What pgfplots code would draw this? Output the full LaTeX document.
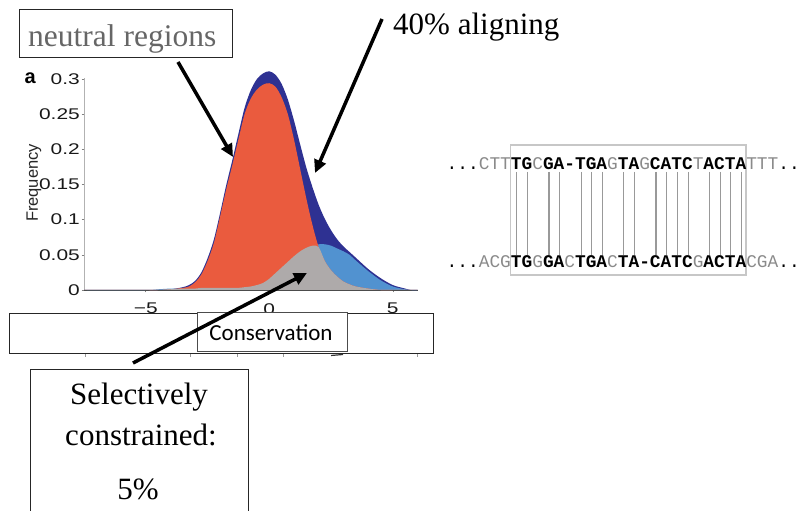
\documentclass[border=0pt]{standalone}
\usepackage{pgfplots}
\usepackage{pgfplotstable}
\pgfplotsset{compat=1.18}
\usepackage{fontspec}
\setmainfont{Liberation Serif}
\newfontfamily\helv{Liberation Sans}
\newfontfamily\tickfont[FakeStretch=1.35]{Liberation Sans}
\newfontfamily\calfont{Carlito}
\newfontfamily\seqfont{Liberation Mono}
\usetikzlibrary{arrows.meta}
\definecolor{dblue}{HTML}{2E3192}
\definecolor{nred}{HTML}{EA5B3E}
\definecolor{lblue}{HTML}{5192D0}
\definecolor{ovgray}{HTML}{AEAAAA}
\definecolor{seqgray}{HTML}{8A8A8A}

\pgfplotstableread{
x     tot    neu    con    ovl
-7.5  0      0      0      0
-5    0      0      0      0
-4.5  0.000  0.000  0.001  0.000
-4    0.001  0.001  0.002  0.001
-3.5  0.004  0.003  0.002  0.002
-3.25 0.007  0.005  0.002  0.002
-3    0.013  0.011  0.002  0.002
-2.75 0.025  0.022  0.003  0.003
-2.5  0.045  0.041  0.003  0.003
-2.25 0.071  0.066  0.003  0.003
-2    0.108  0.103  0.003  0.003
-1.75 0.148  0.142  0.003  0.003
-1.5  0.184  0.177  0.003  0.003
-1.25 0.222  0.214  0.003  0.003
-1    0.259  0.250  0.004  0.004
-0.75 0.284  0.272  0.005  0.005
-0.5  0.300  0.285  0.007  0.007
-0.25 0.308  0.292  0.010  0.010
0     0.311  0.294  0.016  0.016
0.25  0.306  0.289  0.024  0.024
0.5   0.293  0.274  0.032  0.032
0.75  0.271  0.250  0.040  0.040
1     0.241  0.214  0.048  0.048
1.25  0.207  0.172  0.055  0.055
1.5   0.174  0.130  0.060  0.060
1.75  0.146  0.092  0.063  0.063
2     0.121  0.061  0.065  0.061
2.25  0.101  0.041  0.065  0.041
2.5   0.085  0.028  0.063  0.028
2.75  0.072  0.019  0.059  0.019
3     0.062  0.012  0.055  0.012
3.25  0.054  0.008  0.050  0.008
3.5   0.046  0.005  0.042  0.005
4     0.030  0.002  0.027  0.002
4.5   0.017  0.000  0.014  0.000
5     0.007  0      0.005  0
5.5   0.002  0      0.001  0
5.75  0.000  0      0      0
6     0      0      0      0
}\dens

\begin{document}
\begin{tikzpicture}[x=1pt,y=1pt]
\path[use as bounding box] (0,0) rectangle (804,511);
\begin{axis}[
  at={(84pt,221pt)}, anchor=south west, scale only axis,
  width=333.5pt, height=212.4pt,
  xmin=-7.5, xmax=6, ymin=0, ymax=0.302,
  clip=false, axis lines*=left,
  x axis line style={draw=black!70, line width=0.8pt},
  y axis line style={draw=black!30, line width=0.8pt},
  xtick={-5,0,5}, xticklabels={{−5},0,5},
  ytick={0,0.05,0.1,0.15,0.2,0.25,0.3},
  yticklabels={0,0.05,0.1,0.15,0.2,0.25,0.3},
  tick align=outside, major tick length=2.5pt,
  tick style={draw=black!50, line width=0.6pt},
  ticklabel style={font=\tickfont\fontsize{15.5}{15.5}\selectfont, text=black!90},
  yticklabel style={anchor=east, inner sep=0pt, xshift=-1.5pt},
  xticklabel style={anchor=north, inner sep=0pt, yshift=-10.5pt},
  ylabel={Frequency},
  ylabel style={at={(rel axis cs:-0.15,0.504)}, anchor=center,
    font=\helv\fontsize{16.5}{16.5}\selectfont, text=black!85, inner sep=0pt},
]
\addplot[fill=dblue, draw=none, smooth] table[x=x, y=tot]{\dens} \closedcycle;
\addplot[fill=lblue, draw=none, smooth] table[x=x, y=con]{\dens} \closedcycle;
\addplot[fill=nred, draw=none, smooth] table[x=x, y=neu]{\dens} \closedcycle;
\addplot[fill=ovgray, draw=none, smooth] table[x=x, y=ovl]{\dens} \closedcycle;
\end{axis}

% panel letter
\node[anchor=base west, inner sep=0pt, font=\helv\bfseries\fontsize{20}{20}\selectfont] at (24.5,427) {a};

% remnant ticks below the big box
\foreach \xx in {85,190,237,283,417} \draw[black!40, line width=0.6pt] (\xx,158) -- (\xx,154);
\draw[black!80, line width=1.2pt] (331,155.5) -- (343,156.5);

% Conservation boxes
\draw[fill=white, draw=black!85, line width=0.9pt] (9,198) rectangle (433,158);
\draw[fill=white, draw=black!70, line width=0.9pt] (197,199) rectangle (347,160);
\node[anchor=base, inner sep=0pt, font=\calfont\fontsize{23}{23}\selectfont] at (271,170.5) {Conservation};

% neutral regions box
\draw[draw=black!85, line width=0.9pt] (19,502) rectangle (232,454);
\node[anchor=base west, inner sep=0pt, text=black!60, font=\fontsize{31.5}{31.5}\selectfont] at (28,464) {neutral regions};

% 40% aligning
\node[anchor=base west, inner sep=0pt, font=\fontsize{31}{31}\selectfont] at (393,476) {40\% aligning};

% Selectively constrained box
\draw[draw=black!85, line width=0.9pt] (30,-10) -- (30,142) -- (248,142) -- (248,-10);
\node[anchor=base, inner sep=0pt, font=\fontsize{31}{31}\selectfont] at (139,106) {Selectively};
\node[anchor=base, inner sep=0pt, font=\fontsize{31}{31}\selectfont] at (141,65) {constrained:};
\node[anchor=base, inner sep=0pt, font=\fontsize{31}{31}\selectfont] at (138,11) {5\%};

% arrows
\draw[line width=3.5pt, -{Triangle[length=13pt,width=12pt]}] (178,449) -- (233,354);
\draw[line width=3.5pt, -{Triangle[length=13pt,width=12pt]}] (382,492) -- (315,338);
\draw[line width=3.5pt, -{Triangle[length=13pt,width=12pt]}] (133,148) -- (307,238);

% alignment
\draw[draw=black!22, line width=1.5pt] (510.7,366) rectangle (746,236);
\foreach \i in {0,1,3,4,6,7,8,10,11,13,14,15,16,18,19,20,21}
  \draw[draw=black!40, line width=1.1pt] ({511.5+10.7*(\i+0.5)},339) -- ({511.5+10.7*(\i+0.5)},256);
\node[anchor=base west, inner sep=0pt, font=\seqfont\fontsize{17.83}{17.83}\selectfont] at (446.5,341)
  {...{\color{seqgray}CTT}\textbf{TG}{\color{seqgray}C}\textbf{GA-TGA}{\color{seqgray}G}\textbf{TA}{\color{seqgray}G}\textbf{CATC}{\color{seqgray}T}\textbf{ACTA}{\color{seqgray}TTT}...};
\node[anchor=base west, inner sep=0pt, font=\seqfont\fontsize{17.83}{17.83}\selectfont] at (446.5,243)
  {...{\color{seqgray}ACG}\textbf{TG}{\color{seqgray}G}\textbf{GA}{\color{seqgray}C}\textbf{TGA}{\color{seqgray}C}\textbf{TA-CATC}{\color{seqgray}G}\textbf{ACTA}{\color{seqgray}CGA}...};
\end{tikzpicture}
\end{document}
